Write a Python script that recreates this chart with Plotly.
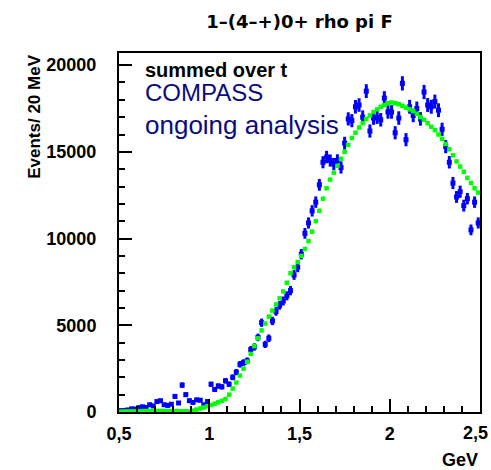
import plotly.graph_objects as go

# bin centres (GeV), 20 MeV bins from 0.5 to 2.5
mass = [0.51, 0.53, 0.55, 0.57, 0.59, 0.61, 0.63, 0.65, 0.67, 0.69,
        0.71, 0.73, 0.75, 0.77, 0.79, 0.81, 0.83, 0.85, 0.87, 0.89,
        0.91, 0.93, 0.95, 0.97, 0.99, 1.01, 1.03, 1.05, 1.07, 1.09,
        1.11, 1.13, 1.15, 1.17, 1.19, 1.21, 1.23, 1.25, 1.27, 1.29,
        1.31, 1.33, 1.35, 1.37, 1.39, 1.41, 1.43, 1.45, 1.47, 1.49,
        1.51, 1.53, 1.55, 1.57, 1.59, 1.61, 1.63, 1.65, 1.67, 1.69,
        1.71, 1.73, 1.75, 1.77, 1.79, 1.81, 1.83, 1.85, 1.87, 1.89,
        1.91, 1.93, 1.95, 1.97, 1.99, 2.01, 2.03, 2.05, 2.07, 2.09,
        2.11, 2.13, 2.15, 2.17, 2.19, 2.21, 2.23, 2.25, 2.27, 2.29,
        2.31, 2.33, 2.35, 2.37, 2.39, 2.41, 2.43, 2.45, 2.47, 2.49]

# measured intensity (blue points)
data_events = [80, 90, 120, 180, 170, 250, 300, 260, 420, 350,
               600, 650, 420, 380, 450, 900, 520, 1550, 1000, 650,
               550, 700, 680, 420, 600, 1600, 1300, 1500, 1450, 1800,
               1600, 2000, 2300, 2750, 2850, 2950, 3600, 3750, 4300, 5150,
               3900, 4250, 5250, 5800, 6150, 6400, 6700, 7000, 7900, 8350,
               9100, 10300, 10900, 11600, 12100, 13100, 14400, 14700, 14500, 14300,
               14500, 14100, 15500, 16900, 16800, 17600, 17700, 17000, 18500, 16200,
               16950, 17000, 16850, 18100, 17300, 17300, 16100, 16950, 18950, 15700,
               17600, 17100, 17500, 16900, 18450, 17700, 17600, 17900, 17400, 16300,
               15300, 14400, 13200, 12400, 12700, 11900, 12300, 10500, 12100, 10900]

data_err = [60, 60, 70, 80, 80, 90, 90, 90, 100, 100,
            110, 110, 100, 100, 100, 120, 110, 160, 130, 120,
            110, 120, 120, 100, 120, 150, 140, 150, 150, 160,
            160, 170, 180, 190, 190, 200, 210, 210, 220, 240,
            210, 220, 240, 250, 250, 260, 260, 270, 280, 290,
            300, 310, 320, 330, 330, 340, 350, 360, 350, 350,
            360, 350, 370, 380, 380, 390, 390, 390, 400, 380,
            390, 390, 390, 400, 390, 390, 380, 390, 410, 380,
            400, 390, 400, 390, 410, 400, 400, 400, 400, 380,
            380, 360, 350, 340, 350, 340, 330, 310, 330, 320]

# fit model (green points)
fit_events = [20, 25, 30, 35, 40, 45, 50, 55, 60, 60,
              60, 60, 60, 55, 55, 50, 50, 45, 40, 30,
              80, 140, 200, 260, 330, 400, 480, 560, 650, 750,
              1000, 1350, 1700, 2100, 2500, 2900, 3350, 3800, 4250, 4700,
              5100, 5500, 5850, 6200, 6550, 6950, 7450, 8000, 8350, 8650,
              9000, 9400, 9850, 10400, 11000, 11600, 12300, 12900, 13400, 13800,
              14200, 14600, 15000, 15400, 15800, 16100, 16400, 16650, 16900, 17100,
              17300, 17450, 17600, 17700, 17800, 17850, 17800, 17750, 17650, 17550,
              17450, 17350, 17200, 17000, 16850, 16650, 16450, 16250, 16000, 15750,
              15450, 15150, 14800, 14450, 14150, 13850, 13500, 13200, 12900, 12650]

x_tickvals = [0.5, 1, 1.5, 2, 2.5]
x_ticktext = ["0,5", "1", "1,5", "2", ""]   # last label drawn as annotation
x_last_label = "2,5"
y_tickvals = [0, 5000, 10000, 15000, 20000]
y_ticktext = ["0", "5000", "10000", "15000", "20000"]

FONT = "Liberation Sans, Arial, Helvetica, sans-serif"
WIDE = "DejaVu Sans, Liberation Sans, sans-serif"
BLUE = "#0000ff"
GREEN = "#00ff00"
NAVY = "#0a0a80"

fig = go.Figure()

fig.add_trace(go.Scatter(
    x=mass, y=data_events, mode="markers",
    marker=dict(symbol="square", size=5, color=BLUE, line=dict(width=0)),
    error_y=dict(type="data", array=data_err, visible=True,
                 color=BLUE, thickness=3, width=0),
    showlegend=False, hoverinfo="x+y"))

fig.add_trace(go.Scatter(
    x=mass, y=fit_events, mode="markers",
    marker=dict(symbol="square", size=4.5, color=GREEN, line=dict(width=0)),
    showlegend=False, hoverinfo="x+y"))

axis_common = dict(
    showgrid=False, zeroline=False, showline=True, mirror=True,
    linecolor="black", linewidth=2, ticks="inside", tickcolor="black",
    tickwidth=2, ticklen=13, automargin=False,
    tickfont=dict(family=FONT, size=18, color="black", weight="bold"),
)

fig.update_xaxes(
    range=[0.5, 2.5], tickmode="array", tickvals=x_tickvals,
    ticktext=x_ticktext, ticklabelstandoff=4, ticklabeloverflow="allow",
    minor=dict(ticks="inside", ticklen=6, tickwidth=2, tickcolor="black",
               dtick=0.1, showgrid=False),
    **axis_common)

fig.update_yaxes(
    range=[0, 20700], tickmode="array", tickvals=y_tickvals,
    ticktext=y_ticktext, ticklabelstandoff=17,
    minor=dict(ticks="inside", ticklen=6, tickwidth=2, tickcolor="black",
               dtick=1000, showgrid=False),
    **axis_common)

annotations = [
    dict(text="summed over t", x=0.066, y=0.953, xref="paper", yref="paper",
         xanchor="left", yanchor="middle", showarrow=False,
         font=dict(family=FONT, size=20, color="black", weight="bold")),
    dict(text="COMPASS", x=0.066, y=0.891, xref="paper", yref="paper",
         xanchor="left", yanchor="middle", showarrow=False,
         font=dict(family=FONT, size=24, color=NAVY)),
    dict(text="ongoing analysis", x=0.066, y=0.800, xref="paper", yref="paper",
         xanchor="left", yanchor="middle", showarrow=False,
         font=dict(family=FONT, size=26, color=NAVY)),
    dict(text="Events/ 20 MeV", x=-0.236, y=1.0, xref="paper", yref="paper",
         xanchor="center", yanchor="top", textangle=-90, showarrow=False,
         font=dict(family=FONT, size=17, color="black", weight="bold")),
    dict(text="GeV", x=1.0, y=-0.134, xref="paper", yref="paper",
         xanchor="right", yanchor="middle", showarrow=False,
         font=dict(family=FONT, size=18, color="black", weight="bold")),
    dict(text=x_last_label, x=1.0275, y=-0.058, xref="paper", yref="paper",
         xanchor="right", yanchor="middle", showarrow=False,
         font=dict(family=FONT, size=18, color="black", weight="bold")),
]

fig.update_layout(
    width=491, height=470, autosize=False,
    margin=dict(l=119, r=11, t=53, b=58, autoexpand=False),
    paper_bgcolor="white", plot_bgcolor="white",
    title=dict(text="1–(4–+)0+ rho pi F", x=0.5, xref="paper",
               y=1 - 22 / 470, yref="container", xanchor="center",
               yanchor="middle", automargin=False,
               font=dict(family=WIDE, size=18, color="black", weight="bold")),
    annotations=annotations,
)

fig.write_html(
    "out.html",
    config={"responsive": False, "displayModeBar": False},
    post_script="document.body.style.margin='0';"
                "document.body.style.overflow='hidden';",
)
